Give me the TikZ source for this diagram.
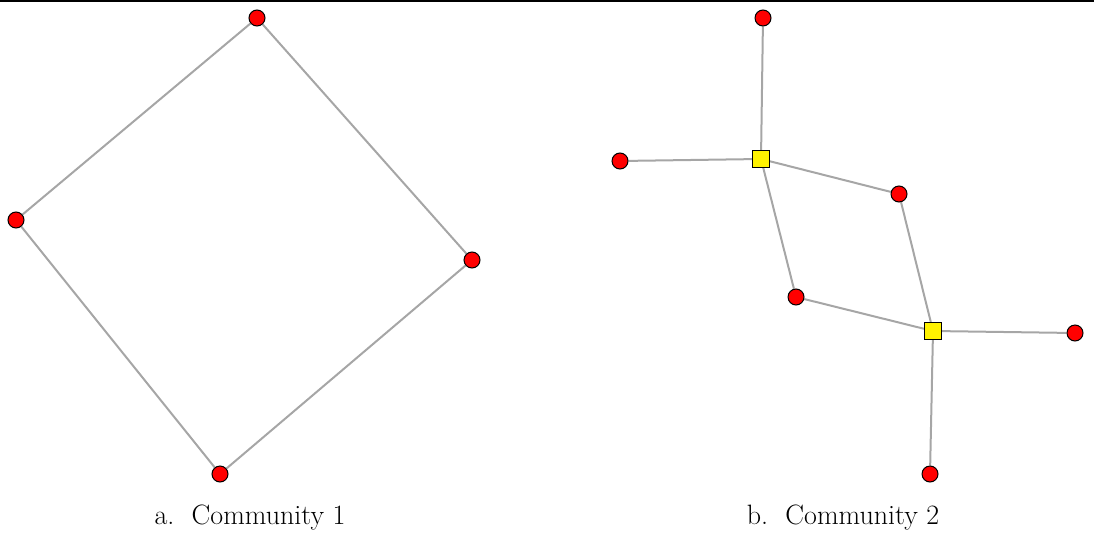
\documentclass[tikz,border=0pt]{standalone}
\usetikzlibrary{backgrounds}
\begin{document}
\begin{tikzpicture}[x=1pt,y=-1pt,
  vert/.style={circle,draw=black,fill=red,line width=1pt,minimum size=16pt,inner sep=0pt},
  hub/.style={rectangle,draw=black,fill=yellow,line width=1pt,minimum size=17pt,inner sep=0pt},
  edge/.style={draw=black!35,line width=2pt},
  captext/.style={font=\fontsize{28}{34}\selectfont,anchor=center}]
\useasboundingbox (0,0) rectangle (1094,533);
\draw[line width=2pt] (0,0.5) -- (1094,0.5);
% Community 1
\node[vert] (a1) at (257,18) {};
\node[vert] (a2) at (16,220) {};
\node[vert] (a3) at (472,260) {};
\node[vert] (a4) at (220,474) {};
% Community 2
\node[vert] (b1) at (763,18) {};
\node[vert] (b2) at (620,161) {};
\node[hub] (s1) at (761,159) {};
\node[vert] (b3) at (899,194) {};
\node[vert] (b4) at (796,297) {};
\node[hub] (s2) at (933,331) {};
\node[vert] (b5) at (1075,333) {};
\node[vert] (b6) at (930,474) {};
\begin{scope}[on background layer]
\path[edge] (a1) -- (a2) (a2) -- (a4) (a4) -- (a3) (a3) -- (a1);
\path[edge] (b1) -- (s1) (b2) -- (s1) (s1) -- (b3) (s1) -- (b4)
  (b3) -- (s2) (b4) -- (s2) (s2) -- (b5) (s2) -- (b6);
\end{scope}
\node[captext] (c1) at (250,518) {a.\hspace{0.62em}Community 1};
\node[captext] (c2) at (843,518) {b.\hspace{0.62em}Community 2};
\end{tikzpicture}
\end{document}
